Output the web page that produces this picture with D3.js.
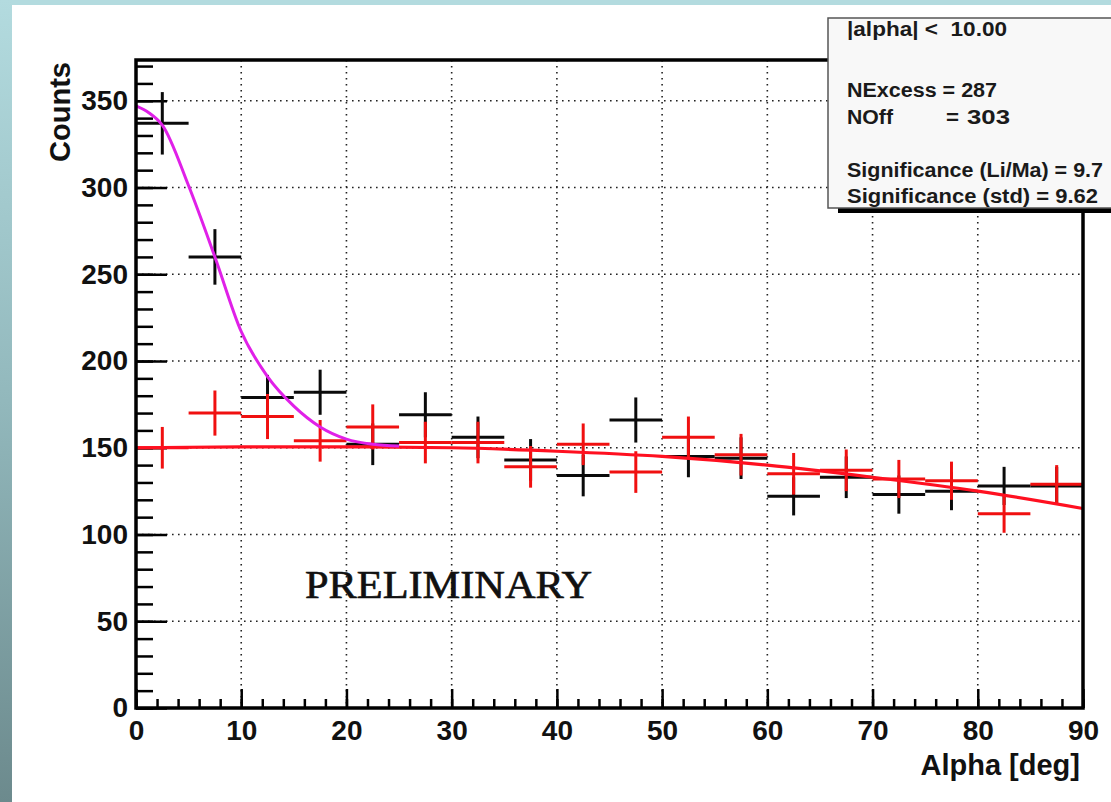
<!DOCTYPE html>
<html>
<head>
<meta charset="utf-8">
<script src="https://cdn.jsdelivr.net/npm/d3@7"></script>
<style>
  html, body { margin: 0; padding: 0; background: #ffffff; }
  svg { display: block; }
  text.sans { font-family: "Liberation Sans", Arial, Helvetica, sans-serif; font-weight: bold; fill: #111; }
  text.serif { font-family: "Liberation Serif", "Times New Roman", serif; font-weight: normal; fill: #111; stroke: #111; stroke-width: 0.7px; }
</style>
</head>
<body>
<svg id="chart" width="1111" height="802"></svg>
<script>
// Alpha distribution: ON-source counts (black) and OFF-source counts (red), 5 deg bins
const binCenters = [2.5, 7.5, 12.5, 17.5, 22.5, 27.5, 32.5, 37.5, 42.5, 47.5, 52.5, 57.5, 62.5, 67.5, 72.5, 77.5, 82.5, 87.5];
const binHalfWidth = 2.5;
const onCounts  = [337, 260, 179, 182, 152, 169, 156, 143, 134, 166, 145, 144, 122, 133, 123, 125, 128, 128];
const onErrors  = [18, 16, 13, 13, 12, 13, 12, 12, 12, 13, 12, 12, 11, 12, 11, 11, 11, 11];
const offCounts = [150, 170, 168, 154, 162, 153, 153, 139, 152, 136, 156, 146, 135, 137, 132, 131, 112, 129];
const offErrors = [12, 13, 13, 12, 13, 12, 12, 12, 12, 12, 12, 12, 12, 12, 11, 11, 11, 11];

// Background fit (red) and signal + background fit (magenta), sampled along alpha
const bgFitAlpha   = [0, 10, 20, 30, 40, 50, 60, 70, 80, 90];
const bgFitCounts  = [150, 150.5, 150.5, 150, 148, 145, 140, 133, 125, 115];
const sigFitAlpha  = [0, 1.25, 2.5, 5, 7.5, 10, 12.5, 15, 17.5, 20, 22.5, 25];
const sigFitCounts = [347, 343, 336, 301, 260, 217, 191, 174, 162, 155, 152, 151];

// Axis ticks
const xTicks = [0, 10, 20, 30, 40, 50, 60, 70, 80, 90];
const yTicks = [0, 50, 100, 150, 200, 250, 300, 350];
const xGrid = [10, 20, 30, 40, 50, 60, 70, 80];
const yGrid = [50, 100, 150, 200, 250, 300, 350];

// Statistics box
const statsLines = ["|alpha| <  10.00", "NExcess = 287", "NOff", "=", "303", "Significance (Li/Ma) = 9.7", "Significance (std) = 9.62"];

const svg = d3.select("#chart");
const W = 1111, H = 802;
const plot = { left: 136, right: 1083, top: 60, bottom: 708 };

// page decoration: teal strip on the left and top
const defs = svg.append("defs");
const grad = defs.append("linearGradient").attr("id", "strip").attr("x1", 0).attr("y1", 0).attr("x2", 0).attr("y2", 1);
grad.append("stop").attr("offset", "0%").attr("stop-color", "#b3dbdf");
grad.append("stop").attr("offset", "50%").attr("stop-color", "#92b8bc");
grad.append("stop").attr("offset", "100%").attr("stop-color", "#6c8a8d");
svg.append("rect").attr("x", 0).attr("y", 0).attr("width", W).attr("height", H).attr("fill", "#ffffff");
svg.append("rect").attr("x", 0).attr("y", 0).attr("width", W).attr("height", 5).attr("fill", "#b3dbdf");
svg.append("rect").attr("x", 0).attr("y", 0).attr("width", 12).attr("height", H).attr("fill", "url(#strip)");

const x = d3.scaleLinear().domain([0, 90]).range([plot.left, plot.right]);
const y = d3.scaleLinear().domain([0, 373.5]).range([plot.bottom, plot.top]);

// dotted grid
const grid = svg.append("g").attr("stroke", "#222").attr("stroke-width", 1.6).attr("stroke-dasharray", "1.6,4.4");
grid.selectAll(".gx").data(xGrid).join("line")
  .attr("x1", d => x(d)).attr("x2", d => x(d)).attr("y1", plot.top).attr("y2", plot.bottom);
grid.selectAll(".gy").data(yGrid).join("line")
  .attr("x1", plot.left).attr("x2", plot.right).attr("y1", d => y(d)).attr("y2", d => y(d));

// minor ticks (inside the frame)
const xMinor = svg.append("g").attr("transform", `translate(0,${plot.bottom})`)
  .call(d3.axisBottom(x).tickValues(d3.range(0, 90.01, 2)).tickSize(-9).tickFormat(""));
const yMinor = svg.append("g").attr("transform", `translate(${plot.left},0)`)
  .call(d3.axisLeft(y).tickValues(d3.range(0, 373, 10)).tickSize(-17).tickFormat(""));

// major ticks with labels
const xAxis = svg.append("g").attr("transform", `translate(0,${plot.bottom})`)
  .call(d3.axisBottom(x).tickValues(xTicks).tickSize(-19).tickPadding(12).tickFormat(d3.format("d")));
const yAxis = svg.append("g").attr("transform", `translate(${plot.left},0)`)
  .call(d3.axisLeft(y).tickValues(yTicks).tickSize(-31).tickPadding(8).tickFormat(d3.format("d")));

[xMinor, yMinor, xAxis, yAxis].forEach(g => {
  g.select(".domain").remove();
  g.selectAll(".tick line").attr("stroke", "#000").attr("stroke-width", 2.5);
});
[xAxis, yAxis].forEach(g => {
  g.selectAll(".tick text").attr("class", "sans").attr("font-size", 28);
});

// error crosses
function drawCrosses(counts, errors, color) {
  const g = svg.append("g").attr("stroke", color).attr("stroke-width", 3);
  const pts = binCenters.map((c, i) => ({ c, v: counts[i], e: errors[i] }));
  g.selectAll(".h").data(pts).join("line")
    .attr("x1", d => x(d.c - binHalfWidth)).attr("x2", d => x(d.c + binHalfWidth))
    .attr("y1", d => y(d.v)).attr("y2", d => y(d.v));
  g.selectAll(".v").data(pts).join("line")
    .attr("x1", d => x(d.c)).attr("x2", d => x(d.c))
    .attr("y1", d => y(d.v + d.e)).attr("y2", d => y(d.v - d.e));
}
drawCrosses(onCounts, onErrors, "#0a0a0a");
drawCrosses(offCounts, offErrors, "#f01010");

// fitted curves
const fitLine = d3.line().x(d => x(d[0])).y(d => y(d[1])).curve(d3.curveMonotoneX);
svg.append("path").datum(bgFitAlpha.map((a, i) => [a, bgFitCounts[i]]))
  .attr("d", fitLine).attr("fill", "none").attr("stroke", "#ff1020").attr("stroke-width", 3.2);
svg.append("path").datum(sigFitAlpha.map((a, i) => [a, sigFitCounts[i]]))
  .attr("d", fitLine).attr("fill", "none").attr("stroke", "#e020e8").attr("stroke-width", 3);

// frame
svg.append("rect").attr("x", plot.left).attr("y", plot.top)
  .attr("width", plot.right - plot.left).attr("height", plot.bottom - plot.top)
  .attr("fill", "none").attr("stroke", "#000").attr("stroke-width", 3.5);

// axis titles
svg.append("text").attr("class", "sans").attr("transform", "translate(70,62) rotate(-90)")
  .attr("text-anchor", "end").attr("font-size", 29).text("Counts");
svg.append("text").attr("class", "sans").attr("x", 1080).attr("y", 775)
  .attr("text-anchor", "end").attr("font-size", 29).text("Alpha [deg]");

// watermark
svg.append("text").attr("class", "serif").attr("x", 305).attr("y", 598)
  .attr("font-size", 40).attr("textLength", 287).attr("lengthAdjust", "spacingAndGlyphs")
  .text("PRELIMINARY");

// statistics box with shadow
svg.append("rect").attr("x", 838).attr("y", 207).attr("width", 300).attr("height", 6).attr("fill", "#000");
svg.append("rect").attr("x", 828).attr("y", 18).attr("width", 300).attr("height", 190)
  .attr("fill", "#f8f8f8").attr("stroke", "#555").attr("stroke-width", 1.5);
const statsPos = [
  { x: 847, y: 36, w: 160 },
  { x: 847, y: 97, w: 150 },
  { x: 847, y: 124, w: 46 },
  { x: 946, y: 124, w: 13 },
  { x: 967, y: 124, w: 43 },
  { x: 847, y: 177, w: 256 },
  { x: 847, y: 203, w: 251 }
];
svg.append("g").selectAll("text").data(statsLines).join("text")
  .attr("class", "sans")
  .attr("x", (d, i) => statsPos[i].x).attr("y", (d, i) => statsPos[i].y)
  .attr("font-size", 19.5).attr("textLength", (d, i) => statsPos[i].w).attr("lengthAdjust", "spacingAndGlyphs")
  .style("white-space", "pre").style("fill", "#1a1a1a").text(d => d);
</script>
</body>
</html>
